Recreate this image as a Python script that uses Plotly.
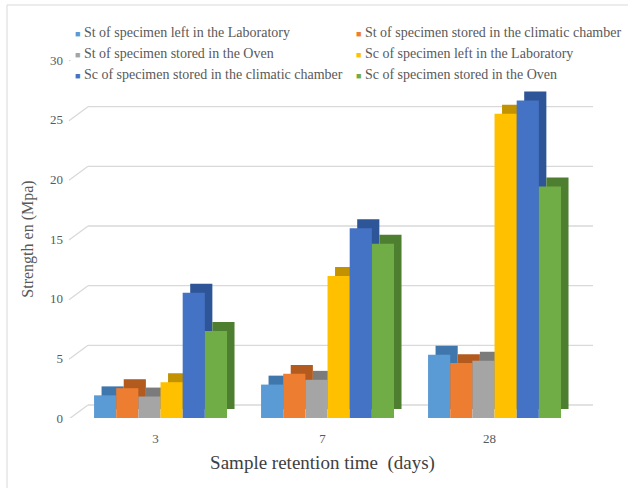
import plotly.graph_objects as go

# ---------------- data ----------------
categories = ["3", "7", "28"]
series_names = [
    "St of specimen left in the Laboratory",
    "St of specimen stored in the climatic chamber",
    "St of specimen stored in the Oven",
    "Sc of specimen left in the Laboratory",
    "Sc of specimen stored in the climatic chamber",
    "Sc of specimen stored in the Oven",
]
st_lab = [1.9, 2.8, 5.3]
st_chamber = [2.5, 3.7, 4.6]
st_oven = [1.8, 3.2, 4.8]
sc_lab = [3.0, 11.9, 25.5]
sc_chamber = [10.5, 15.9, 26.6]
sc_oven = [7.3, 14.6, 19.4]
y_ticks = [0, 5, 10, 15, 20, 25, 30]

series_values = [st_lab, st_chamber, st_oven, sc_lab, sc_chamber, sc_oven]

# ---------------- style ----------------
front_colors = ["#5B9BD5", "#ED7D31", "#A5A5A5", "#FFC000", "#4472C4", "#70AD47"]
side_colors = ["#3F77AD", "#B35B1F", "#7B7B7B", "#C29200", "#2E5597", "#4E7F30"]
FONT = "Liberation Serif"
TXT = "#595959"

bar_w = 0.1327
start_off = -0.368
depth_dx = 0.045   # category units
depth_dy = 0.75    # value units

fig = go.Figure()

# depth (side/top faces) drawn first
for i, vals in enumerate(series_values):
    fig.add_trace(go.Bar(
        x=categories, y=vals, base=depth_dy,
        offset=start_off + i * bar_w + depth_dx, width=bar_w,
        marker=dict(color=side_colors[i], line=dict(width=0)),
        showlegend=False, hoverinfo="skip",
    ))

# front faces
for i, vals in enumerate(series_values):
    fig.add_trace(go.Bar(
        x=categories, y=vals,
        offset=start_off + i * bar_w, width=bar_w,
        marker=dict(color=front_colors[i], line=dict(width=0)),
        name=series_names[i], showlegend=False,
    ))

# legend entries (coloured square in the text, hidden symbol); two columns
for i, name in enumerate(series_names):
    fig.add_trace(go.Scatter(
        x=[None], y=[None], mode="markers",
        marker=dict(color="rgba(0,0,0,0)", size=1),
        name=f"<span style='color:{front_colors[i]};font-size:9px'>■</span> {name}",
        showlegend=True,
        legend="legend" if i % 2 == 0 else "legend2",
    ))

# 3D back-wall gridlines with diagonals
L, R, T, B = 72, 55, 60, 70
W = 628 - L - R
H = 488 - T - B
def px2paper_x(px):
    return (px - L) / W
def px2paper_y(py):
    return (488 - B - py) / H

shapes = []
for v in y_ticks:
    shapes.append(dict(
        type="line", xref="paper", yref="y", ysizemode="pixel", yanchor=v,
        x0=px2paper_x(69), x1=px2paper_x(88), y0=-1, y1=13,
        line=dict(color="#D9D9D9", width=1.3), layer="below"))
    shapes.append(dict(
        type="line", xref="paper", yref="y", ysizemode="pixel", yanchor=v,
        x0=px2paper_x(88), x1=px2paper_x(593), y0=13, y1=13,
        line=dict(color="#D9D9D9", width=1.3), layer="below"))

# chart frame
shapes.append(dict(
    type="rect", xref="paper", yref="paper",
    x0=px2paper_x(7), x1=px2paper_x(700),
    y0=px2paper_y(700), y1=px2paper_y(5),
    line=dict(color="#D9D9D9", width=1), fillcolor="rgba(0,0,0,0)", layer="below"))

legend_common = dict(
    orientation="v", xanchor="left", yanchor="top",
    y=px2paper_y(16),
    font=dict(family=FONT, size=14, color=TXT),
    itemwidth=30, bgcolor="rgba(0,0,0,0)", traceorder="normal",
)

fig.update_layout(
    width=628, height=488,
    margin=dict(l=L, r=R, t=T, b=B, autoexpand=False),
    barmode="overlay",
    paper_bgcolor="white", plot_bgcolor="white",
    font=dict(family=FONT, color=TXT, size=12),
    shapes=shapes,
    showlegend=True,
    legend=dict(x=px2paper_x(35), **legend_common),
    legend2=dict(x=px2paper_x(316), **legend_common),
    xaxis=dict(
        type="category", range=[-0.5, 2.5], showgrid=False, zeroline=False,
        showline=False, ticks="", ticklabelstandoff=11,
        tickfont=dict(family=FONT, size=13, color=TXT),
        title=dict(text="Sample retention time  (days)",
                   font=dict(family=FONT, size=19, color="#404040"), standoff=10),
    ),
    yaxis=dict(
        range=[0, 30], tickvals=y_ticks, showgrid=False, zeroline=False,
        showline=False, ticks="", ticklabelstandoff=8,
        tickfont=dict(family=FONT, size=13, color=TXT),
        title=dict(text="Strength en (Mpa)",
                   font=dict(family=FONT, size=16, color=TXT), standoff=12),
    ),
)

fig.write_html("out.html")
